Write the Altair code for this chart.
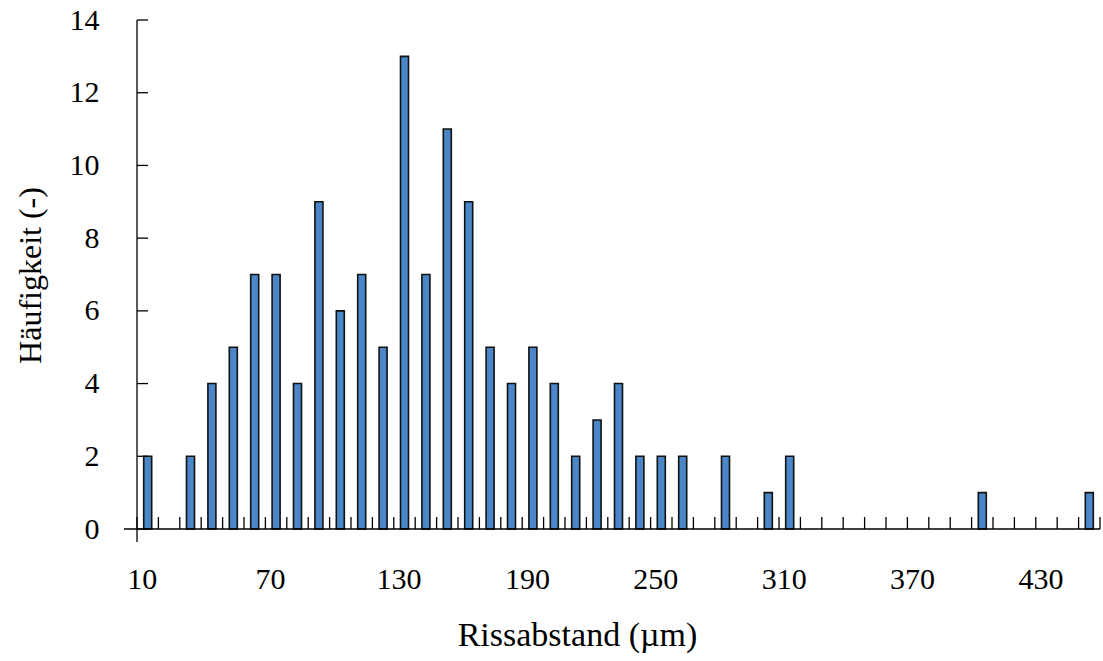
import altair as alt
import pandas as pd

# Crack spacing classes (µm) and how often each occurred
spacing = list(range(10, 460, 10))
frequency = [
    2, 0, 2, 4, 5, 7, 7, 4, 9, 6,
    7, 5, 13, 7, 11, 9, 5, 4, 5, 4,
    2, 3, 4, 2, 2, 2, 0, 2, 0, 1,
    2, 0, 0, 0, 0, 0, 0, 0, 0, 1,
    0, 0, 0, 0, 1,
]
x_label_values = [10, 70, 130, 190, 250, 310, 370, 430]
y_tick_values = [0, 2, 4, 6, 8, 10, 12, 14]

# Class boundaries sit halfway between neighbouring classes
class_width = 10
boundaries = [s - class_width / 2 for s in spacing] + [spacing[-1] + class_width / 2]

W, H = 963, 509
FONT = "Liberation Serif"

bars_df = pd.DataFrame({"Rissabstand": spacing, "Haeufigkeit": frequency})
bound_df = pd.DataFrame({"b": boundaries})
ytick_df = pd.DataFrame({"t": y_tick_values})

x_scale = alt.Scale(domain=[boundaries[0], boundaries[-1]], nice=False, zero=False, padding=0)
y_scale = alt.Scale(domain=[0, 14], nice=False)

bars = (
    alt.Chart(bars_df)
    .transform_filter("datum.Haeufigkeit > 0")
    .mark_bar(size=8, fill="#4A86C8", stroke="#111111", strokeWidth=1.6)
    .encode(
        x=alt.X(
            "Rissabstand:Q",
            scale=x_scale,
            axis=alt.Axis(
                values=x_label_values,
                ticks=False,
                tickSize=0,
                domain=False,
                grid=False,
                labelFont=FONT,
                labelFontSize=30,
                labelColor="black",
                labelPadding=35,
                labelOffset=-6,
                labelFlush=False,
                title="Rissabstand (µm)",
                titleFont=FONT,
                titleFontSize=34,
                titleFontWeight="normal",
                titleColor="black",
                titleAlign="center",
                titleBaseline="alphabetic",
                titleX=440,
                titleY=116,
            ),
        ),
        y=alt.Y(
            "Haeufigkeit:Q",
            scale=y_scale,
            axis=alt.Axis(
                values=y_tick_values,
                ticks=False,
                tickSize=0,
                domain=False,
                grid=False,
                labelFont=FONT,
                labelFontSize=30,
                labelColor="black",
                labelPadding=38,
                title="Häufigkeit (-)",
                titleFont=FONT,
                titleFontSize=32,
                titleFontWeight="normal",
                titleColor="black",
                titleAngle=270,
                titleAlign="center",
                titleBaseline="middle",
                titleX=-107,
                titleY=255,
            ),
        ),
    )
)

# Inward tick marks on the class boundaries
x_ticks = (
    alt.Chart(bound_df)
    .mark_rule(color="black", strokeWidth=1.3)
    .encode(x=alt.X("b:Q", scale=x_scale), y=alt.value(H - 12), y2=alt.value(H))
)

# Inward tick marks on the frequency axis
y_ticks = (
    alt.Chart(ytick_df)
    .mark_rule(color="black", strokeWidth=1.3)
    .encode(y=alt.Y("t:Q", scale=y_scale), x=alt.value(0), x2=alt.value(11))
)

# Axis lines, each running a little past the corner
x_line = (
    alt.Chart(pd.DataFrame({"a": [0]}))
    .mark_rule(color="black", strokeWidth=1.3)
    .encode(x=alt.value(-13), x2=alt.value(W), y=alt.value(H))
)
y_line = (
    alt.Chart(pd.DataFrame({"a": [0]}))
    .mark_rule(color="black", strokeWidth=1.3)
    .encode(x=alt.value(0), y=alt.value(0), y2=alt.value(H + 13))
)

chart = (
    alt.layer(bars, x_ticks, y_ticks, x_line, y_line)
    .properties(
        width=W,
        height=H,
        autosize=alt.AutoSizeParams(type="none"),
        padding={"left": 137, "top": 20, "right": 3, "bottom": 132},
        background="white",
    )
    .configure_view(stroke=None)
)

chart.save("out.html", embed_options={"renderer": "svg", "actions": False})
